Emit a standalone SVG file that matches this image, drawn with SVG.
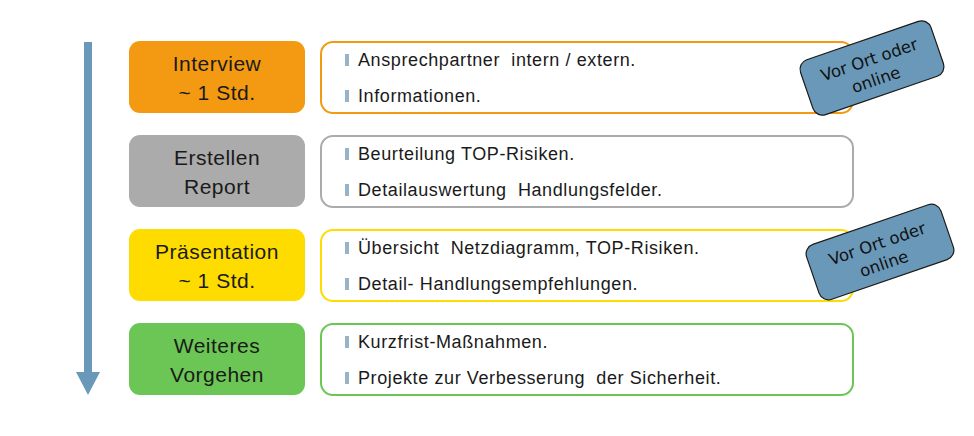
<svg xmlns="http://www.w3.org/2000/svg" width="974" height="436" viewBox="0 0 974 436">
<style>
.lbl{font-family:"Liberation Sans",Arial,sans-serif;font-size:21px;fill:#1a1a1a;text-anchor:middle;letter-spacing:0.5px}
.item{font-family:"Liberation Sans",Arial,sans-serif;font-size:18px;fill:#1a1a1a;letter-spacing:0.6px;white-space:pre}
.bul{fill:#98B2C8}
.badge rect{fill:#6A98B8;stroke:#1a1a1a;stroke-width:1.2}
.badge text{font-family:"DejaVu Sans",Verdana,sans-serif;font-size:16.5px;fill:#111;text-anchor:middle}
.det{fill:#fff;stroke-width:2}
</style>
<rect width="974" height="436" fill="#fff"/>
<g id="connectors">
<rect x="84" y="42" width="8" height="331" fill="#6A98B8"/>
<polygon points="76,372 100,372 88,395" fill="#6A98B8"/>
</g>
<g id="interview">
<rect x="129" y="41" width="176" height="72" rx="11" fill="#F39A12"/>
<text class="lbl" x="217" y="71">Interview</text>
<text class="lbl" x="217" y="100">~ 1 Std.</text>
</g>
<g id="interview-details">
<rect class="det" x="321" y="42" width="532" height="71" rx="12" stroke="#F39A12"/>
<rect class="bul" x="345" y="54" width="4" height="12"/>
<text class="item" x="358" y="66" xml:space="preserve">Ansprechpartner  intern / extern.</text>
<rect class="bul" x="345" y="90" width="4" height="12"/>
<text class="item" x="358" y="102">Informationen.</text>
</g>
<g id="report">
<rect x="129" y="135" width="176" height="72" rx="11" fill="#ABABAB"/>
<text class="lbl" x="217" y="165">Erstellen</text>
<text class="lbl" x="217" y="194">Report</text>
</g>
<g id="report-details">
<rect class="det" x="321" y="136" width="532" height="71" rx="12" stroke="#ABABAB"/>
<rect class="bul" x="345" y="148" width="4" height="12"/>
<text class="item" x="358" y="160">Beurteilung TOP-Risiken.</text>
<rect class="bul" x="345" y="184" width="4" height="12"/>
<text class="item" x="358" y="196" xml:space="preserve">Detailauswertung  Handlungsfelder.</text>
</g>
<g id="praesentation">
<rect x="129" y="229" width="176" height="72" rx="11" fill="#FFDC00"/>
<text class="lbl" x="217" y="259">Präsentation</text>
<text class="lbl" x="217" y="288">~ 1 Std.</text>
</g>
<g id="praesentation-details">
<rect class="det" x="321" y="230" width="532" height="71" rx="12" stroke="#FFDC00"/>
<rect class="bul" x="345" y="242" width="4" height="12"/>
<text class="item" x="358" y="254" xml:space="preserve">Übersicht  Netzdiagramm, TOP-Risiken.</text>
<rect class="bul" x="345" y="278" width="4" height="12"/>
<text class="item" x="358" y="290">Detail- Handlungsempfehlungen.</text>
</g>
<g id="vorgehen">
<rect x="129" y="323" width="176" height="72" rx="11" fill="#6CC655"/>
<text class="lbl" x="217" y="353">Weiteres</text>
<text class="lbl" x="217" y="382">Vorgehen</text>
</g>
<g id="vorgehen-details">
<rect class="det" x="321" y="324" width="532" height="71" rx="12" stroke="#6CC655"/>
<rect class="bul" x="345" y="336" width="4" height="12"/>
<text class="item" x="358" y="348">Kurzfrist-Maßnahmen.</text>
<rect class="bul" x="345" y="372" width="4" height="12"/>
<text class="item" x="358" y="384" xml:space="preserve">Projekte zur Verbesserung  der Sicherheit.</text>
</g>
<g id="badge1" class="badge" transform="translate(872,68) rotate(-19)">
<rect x="-69" y="-29" width="138" height="58" rx="10"/>
<text x="0" y="-3">Vor Ort oder</text>
<text x="0" y="18">online</text>
</g>
<g id="badge2" class="badge" transform="translate(880,252) rotate(-19)">
<rect x="-71" y="-29" width="142" height="58" rx="10"/>
<text x="0" y="-3">Vor Ort oder</text>
<text x="0" y="18">online</text>
</g>
</svg>
